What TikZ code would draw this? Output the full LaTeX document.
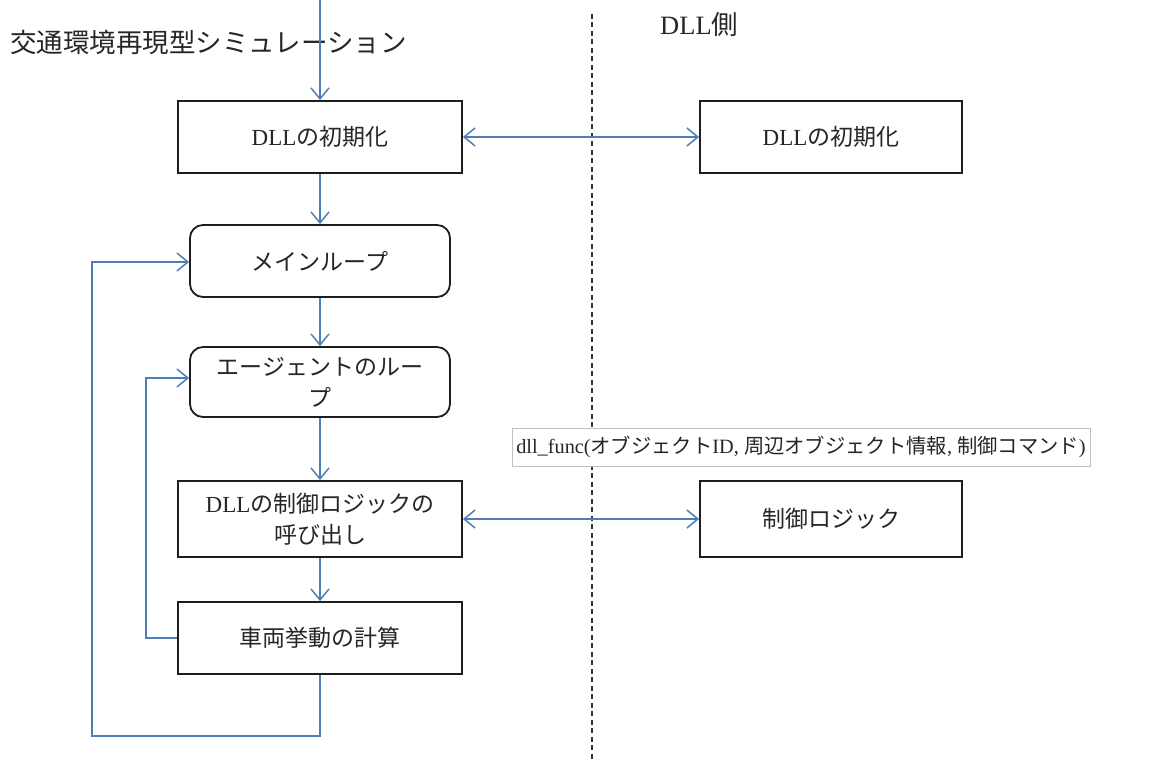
\documentclass[tikz,border=0pt]{standalone}
\usepackage{fontspec}
\setmainfont{Liberation Serif}
\newfontfamily\jp{Noto Sans CJK JP}
\usetikzlibrary{arrows.meta}
\definecolor{arr}{HTML}{4F7DB5}
\definecolor{txt}{HTML}{262626}
\definecolor{bord}{HTML}{1E1E1E}
\tikzset{
  box/.style={draw=bord, line width=1.8pt, fill=white, text=txt, align=center,
    minimum height=72pt, inner sep=2pt, font=\fontsize{23}{31}\selectfont},
  wbox/.style={box, minimum width=284pt},
  rbox/.style={box, minimum width=262pt},
  loopbox/.style={box, minimum width=260pt, rounded corners=13pt},
  flow/.style={draw=arr, line width=1.5pt, -{Straight Barb[length=11pt,width=18pt,line width=1.5pt]}},
  bflow/.style={draw=arr, line width=1.5pt, {Straight Barb[length=11pt,width=18pt,line width=1.5pt]}-{Straight Barb[length=11pt,width=18pt,line width=1.5pt]}},
  lbl/.style={draw=black!25, line width=1pt, fill=white, text=txt, minimum width=578pt, minimum height=38pt, inner sep=1pt, font=\fontsize{20.3}{26}\selectfont},
  ttl/.style={text=txt, inner sep=0pt, anchor=west, font=\fontsize{26.5}{30}\selectfont}
}
\begin{document}
\begin{tikzpicture}[x=1pt,y=-1pt]
\useasboundingbox (0,0) rectangle (1158,762);
% dashed divider
\coordinate (dtop) at (592,14);
\coordinate (dbot) at (592,762);
\draw[black!80, line width=1.5pt, dash pattern=on 5pt off 3.5pt] (dtop) -- (dbot);
% titles
\node[ttl] (title) at (10,42) {\jp 交通環境再現型シミュレーション};
\node[ttl] (dllside) at (660,25) {DLL{\jp 側}};
% boxes
\node[wbox] (init) at (320,137) {DLL{\jp の初期化}};
\node[rbox] (rinit) at (831,137) {DLL{\jp の初期化}};
\node[loopbox] (main) at (320,261) {\jp メインループ};
\node[loopbox, minimum height=70pt] (agent) at (320,382) {\jp エージェントのルー\\\jp プ};
\node[wbox, minimum height=76pt] (call) at (320,519) {DLL{\jp の制御ロジックの}\\{\jp 呼び出し}};
\node[rbox, minimum height=76pt] (logic) at (831,519) {\jp 制御ロジック};
\node[wbox] (calc) at (320,638) {\jp 車両挙動の計算};
% connectors
\coordinate (start) at (320,0);
\draw[flow] (start) -- (init.north);
\draw[flow] (init.south) -- (main.north);
\draw[flow] (main.south) -- (agent.north);
\draw[flow] (agent.south) -- (call.north);
\draw[flow] (call.south) -- (calc.north);
\draw[bflow] (init.east) -- (rinit.west);
\draw[bflow] (call.east) -- (logic.west);
% inner loop
\coordinate (il1) at (146,638);
\coordinate (il2) at (146,378);
\draw[flow] (calc.west) -- (il1) -- (il2) -- (agent.west |- il2);
% outer loop
\coordinate (ol1) at (320,736);
\coordinate (ol2) at (92,736);
\coordinate (ol3) at (92,262);
\draw[flow] (calc.south) -- (ol1) -- (ol2) -- (ol3) -- (main.west |- ol3);
% label
\node[lbl] (func) at (801,447) {dll\_func({\jp オブジェクト}ID, {\jp 周辺オブジェクト情報}, {\jp 制御コマンド})};
\end{tikzpicture}
\end{document}
